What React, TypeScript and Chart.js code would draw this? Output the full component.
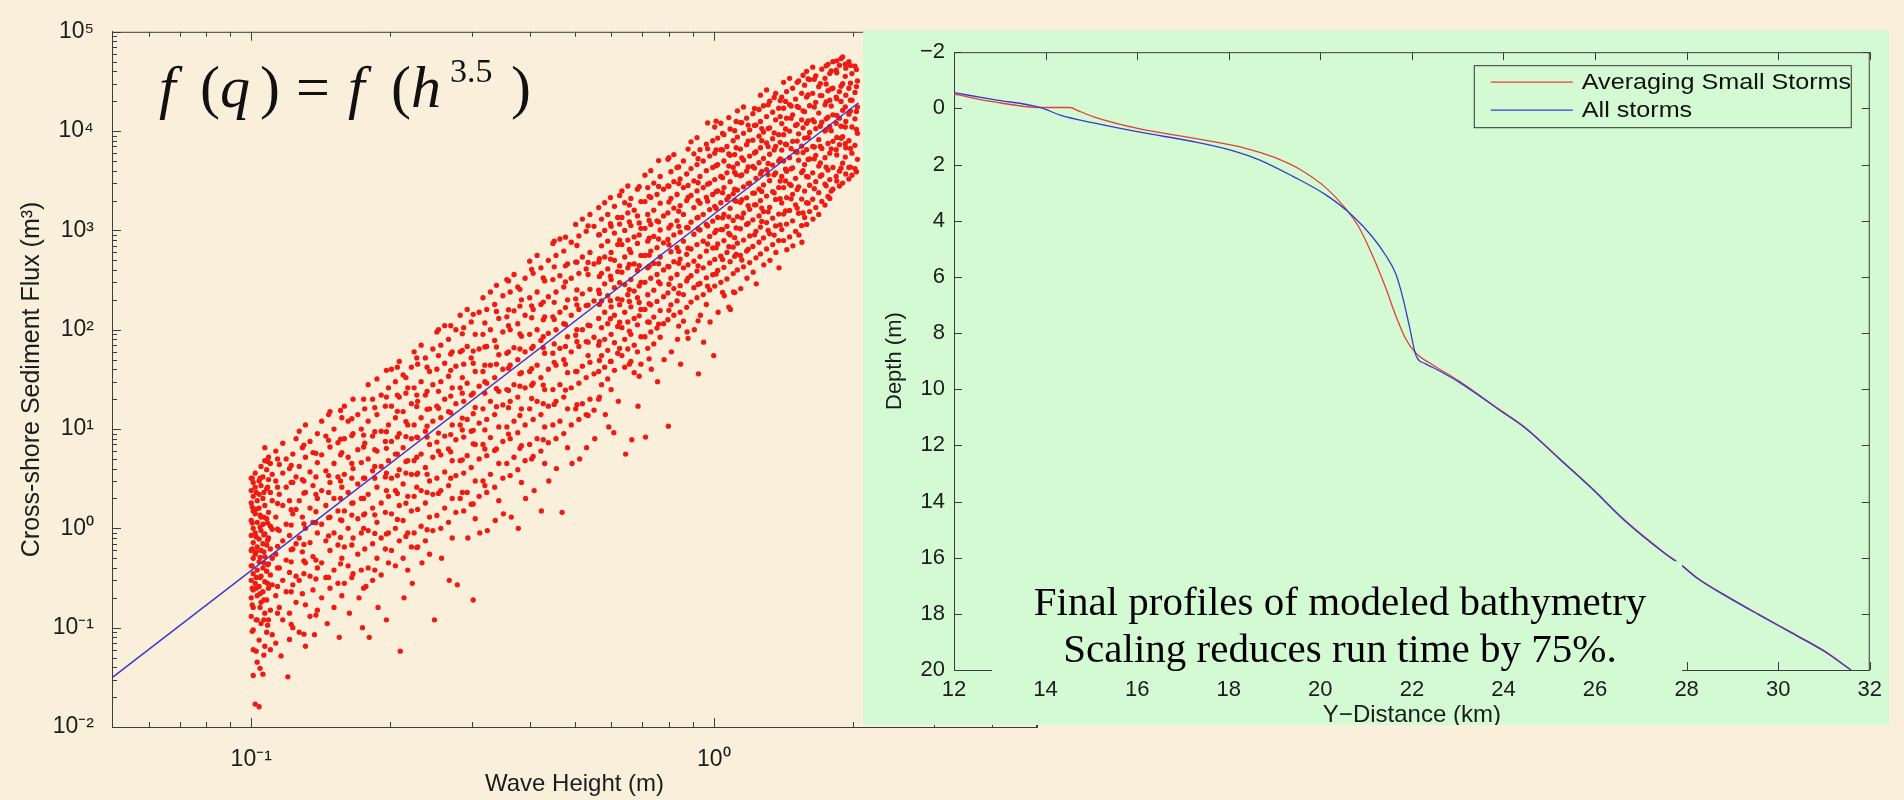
import React, { useEffect, useRef } from 'react';
import { Chart, registerables } from 'chart.js';

Chart.register(...registerables);

// ---------------- Left panel: wave height vs. cross-shore sediment flux ----------------
// [wave height (m), sediment flux (m^3)] read from the scatter cloud
const waveFluxPairs: [number, number][] = [
  [0.100,3.2],[0.100,2.4],[0.100,1.8],[0.100,1.2],[0.100,0.85],[0.100,0.6],[0.100,0.42],[0.100,0.3],[0.100,0.2],[0.100,0.13],
  [0.101,2.9],[0.101,2.1],[0.101,1.5],[0.101,1.0],[0.101,0.72],[0.101,0.5],[0.101,0.35],[0.101,0.24],[0.101,0.16],[0.101,0.095],[0.101,0.06],[0.101,0.033],[0.102,0.017],[0.104,0.016],
  [0.102,3.6],[0.102,2.6],[0.102,1.4],[0.102,0.9],[0.102,0.55],[0.102,0.28],
  [0.103,1.9],[0.103,1.15],[0.103,0.65],[0.103,0.38],[0.103,0.21],[0.103,0.12],[0.103,0.045],
  [0.104,3.0],[0.104,2.2],[0.104,1.6],[0.104,0.78],[0.104,0.46],[0.104,0.26],[0.104,0.075],
  [0.105,4.2],[0.105,2.7],[0.105,1.3],[0.105,0.95],[0.105,0.6],[0.105,0.33],[0.105,0.18],[0.105,0.11],
  [0.106,3.3],[0.106,2.0],[0.106,1.1],[0.106,0.7],[0.106,0.4],[0.106,0.23],[0.106,0.034],
  [0.107,6.5],[0.107,4.8],[0.107,1.7],[0.107,0.88],[0.107,0.52],[0.107,0.29],[0.107,0.14],[0.107,0.065],
  [0.108,3.9],[0.108,2.5],[0.108,1.25],[0.108,0.68],[0.108,0.37],[0.108,0.19],[0.108,0.09],
  [0.109,5.2],[0.109,3.1],[0.109,1.45],[0.109,0.8],[0.109,0.44],[0.109,0.25],[0.109,0.12],
  [0.110,4.5],[0.110,2.3],[0.110,1.05],[0.110,0.62],[0.110,0.34],[0.110,0.15],[0.110,0.06],
  [0.111,3.5],[0.111,1.9],[0.111,0.98],[0.111,0.5],[0.111,0.27],[0.111,0.085],
  [0.113,6.0],[0.113,3.0],[0.113,1.3],[0.113,0.55],[0.113,0.21],[0.113,0.07],
  [0.115,4.4],[0.115,2.2],[0.115,0.95],[0.115,0.4],[0.115,0.16],[0.116,0.052],
  [0.117,7.2],[0.117,3.6],[0.117,1.7],[0.117,0.75],[0.117,0.3],[0.117,0.12],
  [0.119,5.0],[0.119,2.6],[0.119,1.1],[0.119,0.48],[0.119,0.23],[0.120,0.032],
  [0.121,4.0],[0.121,1.9],[0.121,0.85],[0.121,0.36],[0.121,0.14],[0.121,0.076],
  [0.123,5.6],[0.123,2.9],[0.123,1.4],[0.123,0.62],[0.123,0.27],[0.123,0.1],
  [0.125,8.0],[0.125,3.3],[0.125,1.55],[0.125,0.7],[0.125,0.33],[0.125,0.18],
  [0.127,9.5],[0.127,4.2],[0.127,1.9],[0.127,0.8],[0.127,0.3],[0.127,0.09],
  [0.129,6.5],[0.129,3.1],[0.129,1.3],[0.129,0.58],[0.129,0.22],
  [0.131,11],[0.131,5.2],[0.131,2.3],[0.131,1.0],[0.131,0.45],[0.131,0.17],[0.131,0.065],
  [0.134,7.5],[0.134,3.7],[0.134,1.6],[0.134,0.72],[0.134,0.33],[0.134,0.13],
  [0.136,5.8],[0.136,2.7],[0.136,1.15],[0.136,0.52],[0.136,0.24],[0.137,0.085],
  [0.139,9.0],[0.139,4.6],[0.139,2.0],[0.139,0.9],[0.139,0.4],[0.139,0.15],
  [0.142,12],[0.142,5.5],[0.142,2.4],[0.142,1.1],[0.142,0.45],[0.142,0.2],
  [0.145,8.5],[0.145,3.8],[0.145,1.7],[0.145,0.75],[0.145,0.32],[0.146,0.11],
  [0.148,15],[0.148,6.6],[0.148,2.9],[0.148,1.3],[0.148,0.6],[0.148,0.25],
  [0.151,10],[0.151,4.5],[0.151,2.0],[0.151,0.9],[0.151,0.38],[0.151,0.16],
  [0.154,7.3],[0.154,3.3],[0.154,1.5],[0.154,0.68],[0.154,0.28],[0.155,0.08],
  [0.157,13],[0.157,5.8],[0.157,2.6],[0.157,1.2],[0.157,0.5],[0.157,0.21],
  [0.159,17],[0.159,8.0],[0.159,3.5],[0.159,1.5],[0.159,0.65],[0.159,0.28],
  [0.162,12],[0.162,5.2],[0.162,2.3],[0.162,1.0],[0.162,0.42],[0.163,0.14],
  [0.166,20],[0.166,9.0],[0.166,4.0],[0.166,1.8],[0.166,0.8],[0.166,0.35],
  [0.170,14],[0.170,6.2],[0.170,2.8],[0.170,1.25],[0.170,0.55],[0.171,0.2],
  [0.173,10],[0.173,4.6],[0.173,2.0],[0.173,0.9],[0.173,0.38],[0.174,0.1],
  [0.176,16],[0.176,7.2],[0.176,3.2],[0.176,1.4],[0.176,0.62],[0.177,0.26],
  [0.179,28],[0.179,12],[0.179,5.0],[0.179,2.2],[0.179,0.95],[0.179,0.4],[0.180,0.08],
  [0.183,20],[0.183,8.5],[0.183,3.8],[0.183,1.6],[0.183,0.7],[0.183,0.3],
  [0.187,32],[0.187,14],[0.187,6.0],[0.187,2.6],[0.187,1.15],[0.187,0.5],[0.188,0.16],
  [0.191,22],[0.191,9.5],[0.191,4.2],[0.191,1.8],[0.191,0.8],[0.191,0.34],
  [0.195,17],[0.195,7.5],[0.195,3.3],[0.195,1.45],[0.195,0.62],[0.196,0.12],
  [0.198,26],[0.198,11],[0.198,4.8],[0.198,2.1],[0.198,0.9],[0.198,0.45],
  [0.201,40],[0.201,17],[0.201,7.5],[0.201,3.2],[0.201,1.4],[0.201,0.6],
  [0.205,30],[0.205,13],[0.205,5.6],[0.205,2.4],[0.205,1.0],[0.205,0.42],
  [0.209,48],[0.209,21],[0.209,9.0],[0.209,3.9],[0.209,1.7],[0.209,0.75],[0.210,0.058],
  [0.213,35],[0.213,15],[0.213,6.5],[0.213,2.8],[0.213,1.2],[0.213,0.5],[0.214,0.2],
  [0.218,26],[0.218,11],[0.218,4.8],[0.218,2.1],[0.218,0.9],[0.218,0.38],
  [0.222,42],[0.222,18],[0.222,8.0],[0.222,3.5],[0.222,1.5],[0.222,0.65],[0.223,0.28],
  [0.225,60],[0.225,26],[0.225,11],[0.225,4.8],[0.225,2.1],[0.225,0.9],
  [0.229,45],[0.229,19],[0.229,8.2],[0.229,3.6],[0.229,1.55],[0.229,0.65],
  [0.233,70],[0.233,30],[0.233,13],[0.233,5.6],[0.233,2.4],[0.233,1.05],[0.234,0.45],
  [0.238,52],[0.238,22],[0.238,9.5],[0.238,4.1],[0.238,1.8],[0.238,0.75],
  [0.243,38],[0.243,16],[0.243,7.0],[0.243,3.0],[0.243,1.3],[0.243,0.55],
  [0.247,64],[0.247,28],[0.247,12],[0.247,5.2],[0.247,2.2],[0.247,0.95],[0.249,0.12],
  [0.252,95],[0.252,40],[0.252,17],[0.252,7.4],[0.252,3.2],[0.252,1.35],
  [0.257,70],[0.257,30],[0.257,13],[0.257,5.5],[0.257,2.4],[0.257,1.0],[0.258,0.5],
  [0.262,110],[0.262,46],[0.262,20],[0.262,8.5],[0.262,3.7],[0.262,1.6],
  [0.267,80],[0.267,34],[0.267,15],[0.267,6.3],[0.267,2.7],[0.267,1.15],[0.268,0.3],
  [0.272,60],[0.272,26],[0.272,11],[0.272,4.8],[0.272,2.0],[0.272,0.8],
  [0.277,100],[0.277,43],[0.277,18],[0.277,7.8],[0.277,3.4],[0.277,1.45],[0.279,0.27],
  [0.283,140],[0.283,60],[0.283,26],[0.283,11],[0.283,4.8],[0.283,2.0],
  [0.288,105],[0.288,45],[0.288,19],[0.288,8.3],[0.288,3.6],[0.288,1.5],
  [0.293,160],[0.293,68],[0.293,29],[0.293,12.5],[0.293,5.4],[0.293,2.3],[0.294,0.8],
  [0.299,120],[0.299,52],[0.299,22],[0.299,9.5],[0.299,4.1],[0.299,1.75],[0.302,0.19],
  [0.305,90],[0.305,38],[0.305,16.5],[0.305,7.0],[0.305,3.0],[0.305,1.25],
  [0.311,150],[0.311,64],[0.311,27],[0.311,11.5],[0.311,5.0],[0.311,2.1],[0.312,0.9],
  [0.317,210],[0.317,90],[0.317,38],[0.317,16],[0.317,7.0],[0.317,3.0],
  [0.323,160],[0.323,68],[0.323,29],[0.323,12.5],[0.323,5.4],[0.323,2.3],[0.324,0.95],
  [0.329,240],[0.329,100],[0.329,44],[0.329,19],[0.329,8.2],[0.329,3.5],
  [0.336,180],[0.336,78],[0.336,33],[0.336,14],[0.336,6.1],[0.336,2.6],[0.337,1.2],
  [0.343,130],[0.343,56],[0.343,24],[0.343,10.5],[0.343,4.5],[0.343,1.9],
  [0.350,220],[0.350,95],[0.350,40],[0.350,17.5],[0.350,7.5],[0.350,3.2],[0.351,1.4],
  [0.357,320],[0.357,135],[0.357,58],[0.357,25],[0.357,10.5],[0.357,4.5],
  [0.363,240],[0.363,100],[0.363,44],[0.363,19],[0.363,8.0],[0.363,3.4],[0.365,1.3],
  [0.370,360],[0.370,155],[0.370,66],[0.370,28],[0.370,12],[0.370,5.2],
  [0.377,270],[0.377,115],[0.377,50],[0.377,21],[0.377,9.2],[0.377,3.9],[0.378,1.0],
  [0.384,200],[0.384,86],[0.384,37],[0.384,16],[0.384,6.8],[0.384,2.9],
  [0.391,330],[0.391,140],[0.391,60],[0.391,26],[0.391,11],[0.391,4.8],[0.392,2.0],
  [0.400,490],[0.400,210],[0.400,90],[0.400,38],[0.400,16],[0.400,7.0],
  [0.407,370],[0.407,160],[0.407,68],[0.407,29],[0.407,12.5],[0.407,5.3],[0.409,2.4],
  [0.415,560],[0.415,240],[0.415,100],[0.415,44],[0.415,19],[0.415,8.0],
  [0.423,420],[0.423,180],[0.423,78],[0.423,33],[0.423,14],[0.423,6.0],[0.424,1.5],
  [0.431,310],[0.431,135],[0.431,58],[0.431,25],[0.431,10.5],[0.431,4.5],
  [0.439,500],[0.439,215],[0.439,92],[0.439,40],[0.439,17],[0.439,7.3],[0.440,3.0],
  [0.449,740],[0.449,320],[0.449,135],[0.449,58],[0.449,25],[0.449,11],
  [0.456,560],[0.456,240],[0.456,100],[0.456,44],[0.456,19],[0.456,8.0],[0.457,4.0],
  [0.465,820],[0.465,350],[0.465,150],[0.465,65],[0.465,28],[0.465,12],[0.470,1.45],
  [0.474,620],[0.474,270],[0.474,115],[0.474,50],[0.474,21],[0.474,9.0],
  [0.483,460],[0.483,200],[0.483,85],[0.483,37],[0.483,16],[0.483,6.5],
  [0.492,760],[0.492,330],[0.492,140],[0.492,60],[0.492,26],[0.492,11],[0.494,4.5],
  [0.503,1150],[0.503,480],[0.503,205],[0.503,88],[0.503,38],[0.503,16],
  [0.511,880],[0.511,370],[0.511,160],[0.511,68],[0.511,29],[0.511,12.5],[0.513,5.0],
  [0.520,1300],[0.520,540],[0.520,230],[0.520,100],[0.520,43],[0.520,18],
  [0.530,980],[0.530,410],[0.530,175],[0.530,76],[0.530,33],[0.530,14],[0.531,6.5],
  [0.540,1450],[0.540,600],[0.540,255],[0.540,110],[0.540,47],[0.540,20],
  [0.551,1100],[0.551,460],[0.551,195],[0.551,84],[0.551,36],[0.551,15.5],[0.553,8.0],
  [0.564,1700],[0.564,900],[0.564,480],[0.564,250],[0.564,130],[0.564,70],[0.564,38],[0.564,20],
  [0.572,1300],[0.572,700],[0.572,370],[0.572,195],[0.572,105],[0.572,55],[0.572,28],
  [0.581,1900],[0.581,1000],[0.581,540],[0.581,290],[0.581,150],[0.581,80],[0.581,42],[0.583,14],
  [0.590,1450],[0.590,780],[0.590,410],[0.590,220],[0.590,115],[0.590,62],[0.590,32],[0.593,10.5],
  [0.600,1100],[0.600,600],[0.600,320],[0.600,170],[0.600,90],[0.600,48],[0.600,25],[0.608,9.2],
  [0.610,1750],[0.610,940],[0.610,500],[0.610,265],[0.610,140],[0.610,74],[0.610,39],
  [0.620,1350],[0.620,720],[0.620,385],[0.620,205],[0.620,108],[0.620,58],[0.622,19],
  [0.633,2500],[0.633,1350],[0.633,720],[0.633,380],[0.633,200],[0.633,105],[0.633,55],
  [0.642,1900],[0.642,1000],[0.642,540],[0.642,285],[0.642,150],[0.642,80],[0.642,42],[0.645,5.6],
  [0.652,2800],[0.652,1500],[0.652,800],[0.652,420],[0.652,225],[0.652,120],[0.652,64],
  [0.662,2100],[0.662,1120],[0.662,600],[0.662,320],[0.662,170],[0.662,90],[0.662,48],[0.665,7.8],
  [0.673,1600],[0.673,860],[0.673,460],[0.673,245],[0.673,130],[0.673,70],[0.673,37],
  [0.684,2600],[0.684,1400],[0.684,740],[0.684,395],[0.684,210],[0.684,112],[0.684,60],[0.686,17],
  [0.696,1950],[0.696,1050],[0.696,560],[0.696,300],[0.696,160],[0.696,85],[0.696,45],
  [0.710,3600],[0.710,1950],[0.710,1050],[0.710,560],[0.710,300],[0.710,160],[0.710,85],[0.712,8.3],
  [0.720,2700],[0.720,1450],[0.720,780],[0.720,420],[0.720,225],[0.720,120],[0.720,65],
  [0.731,4000],[0.731,2150],[0.731,1150],[0.731,620],[0.731,330],[0.731,178],[0.731,95],[0.733,40],
  [0.742,3000],[0.742,1600],[0.742,870],[0.742,465],[0.742,250],[0.742,134],[0.742,72],
  [0.754,2300],[0.754,1250],[0.754,670],[0.754,360],[0.754,193],[0.754,104],[0.756,30],
  [0.766,3500],[0.766,1880],[0.766,1010],[0.766,540],[0.766,290],[0.766,156],[0.766,84],
  [0.779,2600],[0.779,1400],[0.779,750],[0.779,400],[0.779,215],[0.779,115],[0.781,50],
  [0.796,5200],[0.796,2800],[0.796,1500],[0.796,810],[0.796,435],[0.796,235],[0.796,126],[0.798,10.7],
  [0.808,3900],[0.808,2100],[0.808,1130],[0.808,610],[0.808,330],[0.808,178],[0.810,60],
  [0.820,5800],[0.820,3100],[0.820,1680],[0.820,900],[0.820,485],[0.820,260],[0.820,140],
  [0.833,4300],[0.833,2300],[0.833,1250],[0.833,670],[0.833,360],[0.833,195],[0.835,80],
  [0.846,3300],[0.846,1780],[0.846,960],[0.846,515],[0.846,278],[0.846,150],[0.848,45],
  [0.860,5000],[0.860,2700],[0.860,1450],[0.860,780],[0.860,420],[0.860,226],[0.860,122],
  [0.874,3700],[0.874,2000],[0.874,1070],[0.874,575],[0.874,310],[0.874,168],[0.876,95],
  [0.893,7800],[0.893,4200],[0.893,2250],[0.893,1210],[0.893,650],[0.893,350],[0.893,190],
  [0.906,5900],[0.906,3150],[0.906,1700],[0.906,915],[0.906,490],[0.906,265],[0.908,100],
  [0.920,8600],[0.920,4600],[0.920,2500],[0.920,1340],[0.920,720],[0.920,390],[0.920,210],[0.927,36],
  [0.934,6500],[0.934,3500],[0.934,1880],[0.934,1010],[0.934,545],[0.934,293],[0.936,140],
  [0.949,5000],[0.949,2700],[0.949,1450],[0.949,780],[0.949,420],[0.949,226],[0.951,75],
  [0.964,7400],[0.964,4000],[0.964,2150],[0.964,1150],[0.964,620],[0.964,333],[0.964,180],
  [0.980,5600],[0.980,3000],[0.980,1620],[0.980,870],[0.980,470],[0.980,252],[0.982,120],
  [0.995,8000],[0.995,4300],[0.995,2300],[0.995,1240],[0.995,665],[0.995,358],[1.000,55],
  [1.005,11000],[1.005,6000],[1.005,3250],[1.005,1750],[1.005,950],[1.005,510],[1.005,275],
  [1.020,8500],[1.020,4600],[1.020,2500],[1.020,1350],[1.020,730],[1.020,395],[1.022,150],
  [1.036,12000],[1.036,6500],[1.036,3500],[1.036,1900],[1.036,1020],[1.036,550],[1.036,300],
  [1.052,9200],[1.052,5000],[1.052,2700],[1.052,1450],[1.052,790],[1.052,425],[1.054,220],
  [1.068,7000],[1.068,3800],[1.068,2050],[1.068,1100],[1.068,600],[1.068,325],
  [1.085,10500],[1.085,5700],[1.085,3100],[1.085,1670],[1.085,900],[1.085,485],[1.087,160],
  [1.102,8000],[1.102,4300],[1.102,2350],[1.102,1260],[1.102,680],[1.102,368],[1.104,240],
  [1.118,12500],[1.118,6800],[1.118,3650],[1.118,1970],[1.118,1060],[1.118,575],
  [1.125,16000],[1.125,8700],[1.125,4700],[1.125,2550],[1.125,1380],[1.125,745],[1.125,400],
  [1.142,12200],[1.142,6600],[1.142,3550],[1.142,1920],[1.142,1040],[1.142,560],[1.144,260],
  [1.160,17500],[1.160,9500],[1.160,5100],[1.160,2750],[1.160,1490],[1.160,800],[1.160,430],
  [1.178,13500],[1.178,7300],[1.178,3950],[1.178,2130],[1.178,1150],[1.178,620],[1.180,330],
  [1.196,10300],[1.196,5600],[1.196,3000],[1.196,1630],[1.196,880],[1.196,475],
  [1.215,15000],[1.215,8100],[1.215,4400],[1.215,2370],[1.215,1280],[1.215,690],[1.217,380],
  [1.234,11500],[1.234,6200],[1.234,3350],[1.234,1810],[1.234,980],[1.234,530],[1.236,290],
  [1.253,16500],[1.253,8900],[1.253,4800],[1.253,2600],[1.253,1400],[1.253,760],
  [1.262,23000],[1.262,12500],[1.262,6800],[1.262,3700],[1.262,2000],[1.262,1080],[1.262,580],
  [1.281,18000],[1.281,9800],[1.281,5300],[1.281,2870],[1.281,1550],[1.281,840],[1.283,450],
  [1.301,26000],[1.301,14000],[1.301,7600],[1.301,4100],[1.301,2220],[1.301,1200],[1.301,650],
  [1.321,20000],[1.321,10800],[1.321,5850],[1.321,3170],[1.321,1710],[1.321,925],[1.323,500],
  [1.341,15500],[1.341,8400],[1.341,4550],[1.341,2460],[1.341,1330],[1.341,720],
  [1.361,24000],[1.361,13000],[1.361,7000],[1.361,3800],[1.361,2050],[1.361,1110],[1.363,600],
  [1.382,17000],[1.382,9200],[1.382,5000],[1.382,2700],[1.382,1460],[1.382,790],[1.384,420],
  [1.403,22000],[1.403,11900],[1.403,6450],[1.403,3490],[1.403,1890],[1.403,1020],
  [1.416,31000],[1.416,17000],[1.416,9200],[1.416,5000],[1.416,2700],[1.416,1460],[1.416,790],
  [1.437,25000],[1.437,13500],[1.437,7300],[1.437,3950],[1.437,2140],[1.437,1160],[1.439,640],
  [1.459,34000],[1.459,18500],[1.459,10000],[1.459,5400],[1.459,2930],[1.459,1590],[1.459,860],
  [1.481,27000],[1.481,14600],[1.481,7900],[1.481,4270],[1.481,2310],[1.481,1250],[1.483,700],
  [1.503,21000],[1.503,11400],[1.503,6200],[1.503,3350],[1.503,1810],[1.503,980],
  [1.526,32000],[1.526,17300],[1.526,9400],[1.526,5100],[1.526,2750],[1.526,1490],[1.528,900],
  [1.549,24000],[1.549,13000],[1.549,7050],[1.549,3820],[1.549,2070],[1.549,1120],[1.551,760],
  [1.572,29000],[1.572,15700],[1.572,8500],[1.572,4600],[1.572,2490],[1.572,1350],
  [1.588,40000],[1.588,22000],[1.588,12000],[1.588,6500],[1.588,3500],[1.588,1900],[1.588,1150],
  [1.612,33000],[1.612,18000],[1.612,9700],[1.612,5250],[1.612,2850],[1.612,1550],
  [1.637,44000],[1.637,24000],[1.637,13000],[1.637,7000],[1.637,3800],[1.637,2060],[1.639,1300],
  [1.662,36000],[1.662,19500],[1.662,10600],[1.662,5700],[1.662,3100],[1.662,1700],
  [1.687,28000],[1.687,15200],[1.687,8200],[1.687,4450],[1.687,2400],[1.687,1450],
  [1.713,42000],[1.713,22800],[1.713,12300],[1.713,6700],[1.713,3620],[1.713,1960],
  [1.740,34000],[1.740,18400],[1.740,10000],[1.740,5400],[1.740,2930],[1.740,1800],
  [1.766,47000],[1.766,25500],[1.766,13800],[1.766,7500],[1.766,4050],[1.766,2200],
  [1.782,38000],[1.782,20500],[1.782,11100],[1.782,6000],[1.782,3250],[1.782,2100],
  [1.810,50000],[1.810,27000],[1.810,14600],[1.810,7900],[1.810,4300],[1.810,2600],
  [1.840,41000],[1.840,22000],[1.840,12000],[1.840,6500],[1.840,3500],
  [1.870,46000],[1.870,25000],[1.870,13500],[1.870,7300],[1.870,3950],[1.870,2800],
  [1.900,56000],[1.900,30000],[1.900,16200],[1.900,8800],[1.900,4750],[1.900,3000],
  [1.930,43000],[1.930,23000],[1.930,12500],[1.930,6800],[1.930,3700],
  [1.960,50000],[1.960,27000],[1.960,14800],[1.960,8000],[1.960,4300],[1.960,3300],
  [1.990,38000],[1.990,20500],[1.990,11000],[1.990,6000],[1.990,3600],
  [2.020,45000],[2.020,24500],[2.020,13300],[2.020,7200],[2.020,4200],
  [2.045,32000],[2.045,17500],[2.045,9500],[2.045,5200],
];

// second pass over the cloud: points lying between the columns above
const waveFluxPairsFill: [number, number][] = [
  [0.1005,3.2],[0.1005,1.64],[0.1005,1.13],[0.1005,0.62],[0.1005,0.42],[0.1005,0.25],[0.1005,0.17],[0.1005,0.092],
  [0.1025,2.3],[0.1025,1.56],[0.1025,0.82],[0.1025,0.58],[0.1025,0.32],[0.1025,0.25],[0.1025,0.12],[0.1025,0.058],
  [0.1045,3.2],[0.1045,1.36],[0.1045,1.03],[0.1045,0.51],[0.1045,0.32],[0.1045,0.22],[0.1045,0.16],[0.1045,0.039],
  [0.1065,2.3],[0.1065,1.3],[0.1065,0.86],[0.1065,0.58],[0.1065,0.45],[0.1065,0.19],[0.1065,0.12],[0.1065,0.053],
  [0.1085,4.7],[0.1085,2.6],[0.1085,1.13],[0.1085,0.76],[0.1085,0.43],[0.1085,0.28],[0.1085,0.106],
  [0.114,5.0],[0.114,2.6],[0.114,1.78],[0.114,0.98],[0.114,0.66],[0.114,0.4],[0.114,0.26],[0.114,0.14],
  [0.122,4.3],[0.122,2.9],[0.122,1.54],[0.122,1.08],[0.122,0.61],[0.122,0.46],[0.122,0.23],[0.122,0.108],
  [0.130,6.9],[0.130,3.0],[0.130,2.26],[0.130,1.11],[0.130,0.69],[0.130,0.47],[0.130,0.35],[0.130,0.086],
  [0.138,5.7],[0.138,3.3],[0.138,2.2],[0.138,1.47],[0.138,1.14],[0.138,0.48],[0.138,0.31],[0.138,0.134],
  [0.147,14],[0.147,7.7],[0.147,3.4],[0.147,2.3],[0.147,1.28],[0.147,0.84],[0.147,0.32],
  [0.156,15.4],[0.156,7.9],[0.156,5.5],[0.156,3.0],[0.156,2.0],[0.156,1.22],[0.156,0.81],[0.156,0.44],
  [0.165,12.7],[0.165,8.6],[0.165,4.5],[0.165,3.2],[0.165,1.79],[0.165,1.36],[0.165,0.68],[0.165,0.32],
  [0.175,20],[0.175,8.7],[0.175,6.6],[0.175,3.2],[0.175,2.0],[0.175,1.37],[0.175,1.0],[0.175,0.25],
  [0.185,16.4],[0.185,9.4],[0.185,6.2],[0.185,4.2],[0.185,3.2],[0.185,1.37],[0.185,0.89],[0.185,0.38],
  [0.196,39],[0.196,21],[0.196,9.4],[0.196,6.4],[0.196,3.6],[0.196,2.4],[0.196,0.88],
  [0.207,42],[0.207,22],[0.207,15.1],[0.207,8.3],[0.207,5.6],[0.207,3.4],[0.207,2.25],[0.207,1.23],
  [0.216,33],[0.216,23],[0.216,11.9],[0.216,8.4],[0.216,4.7],[0.216,3.6],[0.216,1.79],[0.216,0.83],
  [0.228,52],[0.228,22],[0.228,16.9],[0.228,8.3],[0.228,5.2],[0.228,3.5],[0.228,2.6],[0.228,0.64],
  [0.240,42],[0.240,24],[0.240,15.8],[0.240,10.7],[0.240,8.3],[0.240,3.5],[0.240,2.3],[0.240,0.97],
  [0.254,100],[0.254,55],[0.254,24],[0.254,16.2],[0.254,9.1],[0.254,6.0],[0.254,2.25],
  [0.270,110],[0.270,57],[0.270,39],[0.270,21.5],[0.270,14.6],[0.270,8.8],[0.270,5.9],[0.270,3.2],
  [0.286,91],[0.286,62],[0.286,33],[0.286,23],[0.286,12.9],[0.286,9.8],[0.286,4.9],[0.286,2.3],
  [0.302,143],[0.302,61],[0.302,46],[0.302,23],[0.302,14.3],[0.302,9.7],[0.302,7.1],[0.302,1.76],
  [0.320,117],[0.320,67],[0.320,44],[0.320,30],[0.320,23],[0.320,9.8],[0.320,6.3],[0.320,2.7],
  [0.339,280],[0.339,153],[0.339,67],[0.339,45],[0.339,25.5],[0.339,16.8],[0.339,6.3],
  [0.360,310],[0.360,159],[0.360,110],[0.360,60],[0.360,41],[0.360,24.5],[0.360,16.4],[0.360,8.9],
  [0.381,255],[0.381,173],[0.381,91],[0.381,64],[0.381,36],[0.381,27],[0.381,13.7],[0.381,6.4],
  [0.404,405],[0.404,174],[0.404,132],[0.404,65],[0.404,40.5],[0.404,27.6],[0.404,20.3],[0.404,5.0],
  [0.428,332],[0.428,190],[0.428,126],[0.428,85],[0.428,66],[0.428,27.7],[0.428,18],[0.428,7.8],
  [0.452,780],[0.452,430],[0.452,189],[0.452,127],[0.452,72],[0.452,47],[0.452,17.7],
  [0.478,855],[0.478,440],[0.478,304],[0.478,167],[0.478,113],[0.478,68],[0.478,45],[0.478,24.7],
  [0.506,705],[0.506,479],[0.506,252],[0.506,178],[0.506,100],[0.506,76],[0.506,38],[0.506,17.6],
  [0.535,1110],[0.535,476],[0.535,360],[0.535,177],[0.535,111],[0.535,75],[0.535,55],[0.535,13.7],
  [0.566,907],[0.566,520],[0.566,344],[0.566,232],[0.566,180],[0.566,76],[0.566,49],[0.566,21],
  [0.598,2140],[0.598,1170],[0.598,515],[0.598,347],[0.598,196],[0.598,129],[0.598,48],
  [0.626,2250],[0.626,1160],[0.626,800],[0.626,439],[0.626,298],[0.626,179],[0.626,119],[0.626,65],
  [0.657,1800],[0.657,1220],[0.657,644],[0.657,454],[0.657,254],[0.657,193],[0.657,97],[0.657,45],
  [0.690,2760],[0.690,1190],[0.690,900],[0.690,442],[0.690,276],[0.690,188],[0.690,138],[0.690,34],
  [0.725,2200],[0.725,1260],[0.725,834],[0.725,563],[0.725,435],[0.725,183],[0.725,119],[0.725,51],
  [0.760,5050],[0.760,2770],[0.760,1220],[0.760,820],[0.760,462],[0.760,304],[0.760,114],
  [0.800,5400],[0.800,2790],[0.800,1930],[0.800,1060],[0.800,718],[0.800,431],[0.800,287],[0.800,157],
  [0.840,4360],[0.840,2960],[0.840,1560],[0.840,1100],[0.840,615],[0.840,467],[0.840,233],[0.840,109],
  [0.880,6600],[0.880,2840],[0.880,2150],[0.880,1060],[0.880,662],[0.880,450],[0.880,331],[0.880,82],
  [0.925,5280],[0.925,3020],[0.925,2000],[0.925,1350],[0.925,1040],[0.925,440],[0.925,286],[0.925,123],
  [0.970,12100],[0.970,6650],[0.970,2920],[0.970,1970],[0.970,1110],[0.970,730],[0.970,274],
  [1.012,12600],[1.012,6480],[1.012,4480],[1.012,2460],[1.012,1670],[1.012,1000],[1.012,668],[1.012,364],
  [1.045,9500],[1.045,6470],[1.045,3400],[1.045,2400],[1.045,1340],[1.045,1020],[1.045,511],[1.045,238],
  [1.078,13700],[1.078,5880],[1.078,4450],[1.078,2190],[1.078,1370],[1.078,932],[1.078,685],[1.078,169],
  [1.110,10100],[1.110,5810],[1.110,3850],[1.110,2600],[1.110,2010],[1.110,845],[1.110,549],[1.110,237],
  [1.150,12200],[1.150,5380],[1.150,3620],[1.150,2040],[1.150,1340],[1.150,504],
  [1.187,11500],[1.187,7940],[1.187,4360],[1.187,2960],[1.187,1780],[1.187,1180],[1.187,646],
  [1.225,16900],[1.225,11400],[1.225,6020],[1.225,4240],[1.225,2380],[1.225,1810],[1.225,903],
  [1.270,10600],[1.270,8020],[1.270,3940],[1.270,2470],[1.270,1680],[1.270,1230],
  [1.311,18400],[1.311,10600],[1.311,6990],[1.311,4720],[1.311,3650],[1.311,1540],[1.311,998],
  [1.351,21800],[1.351,9580],[1.351,6460],[1.351,3630],[1.351,2390],[1.351,898],
  [1.392,20300],[1.392,14000],[1.392,7710],[1.392,5240],[1.392,3140],[1.392,2090],[1.392,1140],
  [1.430,19900],[1.430,10500],[1.430,7390],[1.430,4140],[1.430,3150],[1.430,1570],
  [1.470,17900],[1.470,13500],[1.470,6660],[1.470,4170],[1.470,2840],[1.470,2080],
  [1.515,31000],[1.515,17700],[1.515,11700],[1.515,7930],[1.515,6130],[1.515,2580],[1.515,1680],
  [1.560,36500],[1.560,16000],[1.560,10800],[1.560,6090],[1.560,4010],[1.560,1500],
  [1.600,33500],[1.600,23100],[1.600,12700],[1.600,8630],[1.600,5180],[1.600,3450],[1.600,1880],
  [1.650,33300],[1.650,17500],[1.650,12400],[1.650,6920],[1.650,5260],[1.650,2630],
  [1.700,30100],[1.700,22800],[1.700,11200],[1.700,7020],[1.700,4780],[1.700,3510],
  [1.750,45400],[1.750,29800],[1.750,19700],[1.750,13300],[1.750,10300],[1.750,4330],[1.750,2810],
  [1.795,40300],[1.795,26600],[1.795,17900],[1.795,10100],[1.795,6640],[1.795,2490],
  [1.845,51000],[1.845,38600],[1.845,21200],[1.845,14400],[1.845,8640],[1.845,5760],[1.845,3140],
  [1.885,53700],[1.885,28300],[1.885,19900],[1.885,11200],[1.885,8480],[1.885,4240],
  [1.925,47100],[1.925,35600],[1.925,17500],[1.925,11000],[1.925,7460],[1.925,5480],
  [1.975,45900],[1.975,30400],[1.975,20500],[1.975,15900],[1.975,6680],[1.975,4340],
  [2.035,41700],[2.035,28100],[2.035,15800],[2.035,10400],[2.035,3900],
];

// fitted power law q ~ h^3.5 (end points of the blue line)
const fitHeights = [0.0502, 2.056];
const fitFlux = [0.0318, 19300];

const fluxXTicks = [0.1, 1];
const fluxXLabels = ['10⁻¹', '10⁰'];
const fluxYTicks = [0.01, 0.1, 1, 10, 100, 1000, 10000, 100000];
const fluxYLabels = ['10⁻²', '10⁻¹', '10⁰', '10¹', '10²', '10³', '10⁴', '10⁵'];

// ---------------- Right panel: modeled bathymetry profiles ----------------
const seriesNames = ['Averaging Small Storms', 'All storms'];
const distanceSmall = [12, 12.87, 13.89, 14.54, 14.69, 15.05, 16.06, 17.22, 18.39, 18.97, 19.55, 20.13, 20.56, 20.85, 21.14, 21.43, 21.65, 21.87, 22.09, 22.45, 23.03, 23.9, 24.48, 25.21, 25.93, 26.66, 27.53, 27.89, 28.26, 28.84, 29.56, 30.29, 31.01, 31.59];
const depthSmall = [-0.51, -0.23, -0.03, -0.03, 0.07, 0.3, 0.73, 1.06, 1.43, 1.73, 2.17, 2.84, 3.58, 4.25, 5.24, 6.4, 7.39, 8.22, 8.72, 9.13, 9.71, 10.71, 11.37, 12.45, 13.52, 14.68, 15.84, 16.26, 16.75, 17.33, 18.0, 18.66, 19.32, 20.0];
const distanceAll = [12, 12.87, 13.89, 14.32, 15.05, 16.06, 17.22, 18.1, 18.68, 19.4, 20.13, 20.71, 21.14, 21.43, 21.65, 21.8, 21.94, 22.09, 22.3, 22.45, 23.03, 23.9, 24.48, 25.21, 25.93, 26.66, 27.53, 27.89, 28.26, 28.84, 29.56, 30.29, 31.01, 31.59];
const depthAll = [-0.56, -0.31, -0.03, 0.24, 0.52, 0.85, 1.18, 1.51, 1.84, 2.42, 3.09, 3.83, 4.58, 5.24, 5.9, 6.73, 7.72, 8.8, 9.1, 9.22, 9.75, 10.73, 11.39, 12.47, 13.54, 14.7, 15.86, 16.28, 16.77, 17.35, 18.02, 18.68, 19.34, 20.0];
const distanceTicks = [12, 14, 16, 18, 20, 22, 24, 26, 28, 30, 32];
const depthTicks = [-2, 0, 2, 4, 6, 8, 10, 12, 14, 16, 18, 20];
const captionLines = ['Final profiles of modeled bathymetry', 'Scaling reduces run time by 75%.'];
const equationText = { f: 'f', q: 'q', h: 'h', power: '3.5', eq: '=' };

// ---------------- styling ----------------
const SANS = '"Liberation Sans", Arial, Helvetica, sans-serif';
const SERIF = '"Liberation Serif", "Times New Roman", Times, serif';
const PAGE_BG = '#f9efda';
const PANEL_GREEN = 'rgb(211,250,211)';
const INK = '#1c1c1c';
const AXIS = '#3c3c3c';

function logTickMarks(min: number, max: number) {
  const out: { v: number; major: boolean }[] = [];
  const e0 = Math.floor(Math.log10(min));
  const e1 = Math.ceil(Math.log10(max));
  for (let e = e0; e <= e1; e++) {
    for (let m = 1; m <= 9; m++) {
      const v = m * Math.pow(10, e);
      if (v >= min * 0.9999 && v <= max * 1.0001) out.push({ v, major: m === 1 });
    }
  }
  return out;
}

const logFramePlugin = {
  id: 'logFrame',
  afterDraw(chart: any) {
    const { ctx, chartArea: a, scales } = chart;
    const xs = scales.x;
    const ys = scales.y;
    ctx.save();
    ctx.strokeStyle = AXIS;
    ctx.lineWidth = 1;
    ctx.beginPath();
    ctx.moveTo(a.left, a.top + 0.5);
    ctx.lineTo(a.right, a.top + 0.5);
    ctx.moveTo(a.right - 0.5, a.top);
    ctx.lineTo(a.right - 0.5, a.bottom);
    for (const t of logTickMarks(xs.min, xs.max)) {
      const px = Math.round(xs.getPixelForValue(t.v)) + 0.5;
      const len = t.major ? 9 : 5;
      ctx.moveTo(px, a.bottom);
      ctx.lineTo(px, a.bottom - len);
      ctx.moveTo(px, a.top);
      ctx.lineTo(px, a.top + len);
    }
    for (const t of logTickMarks(ys.min, ys.max)) {
      const py = Math.round(ys.getPixelForValue(t.v)) + 0.5;
      const len = t.major ? 9 : 5;
      ctx.moveTo(a.left, py);
      ctx.lineTo(a.left + len, py);
      ctx.moveTo(a.right, py);
      ctx.lineTo(a.right - len, py);
    }
    ctx.stroke();
    ctx.restore();
  },
};

const equationPlugin = {
  id: 'equation',
  afterDraw(chart: any) {
    const { ctx, chartArea: a } = chart;
    const base = a.top + 75;
    const parts: [string, number, boolean, number, number][] = [
      [equationText.f, 47, true, 60, 0],
      ['(', 88, false, 60, 0],
      [equationText.q, 108, true, 60, 0],
      [')', 148, false, 60, 0],
      [equationText.eq, 184, false, 60, 0],
      [equationText.f, 236, true, 60, 0],
      ['(', 279, false, 60, 0],
      [equationText.h, 299, true, 60, 0],
      [equationText.power, 338, false, 34, -25],
      [')', 399, false, 60, 0],
    ];
    ctx.save();
    ctx.fillStyle = '#111';
    ctx.textAlign = 'left';
    ctx.textBaseline = 'alphabetic';
    for (const [txt, dx, italic, size, dy] of parts) {
      ctx.font = `${italic ? 'italic ' : ''}${size}px ${SERIF}`;
      ctx.fillText(txt, a.left + dx, base + dy);
    }
    ctx.restore();
  },
};

const profileDecorPlugin = {
  id: 'profileDecor',
  afterDraw(chart: any) {
    const { ctx, chartArea: a, scales } = chart;
    const xs = scales.x;
    const ys = scales.y;
    ctx.save();
    ctx.strokeStyle = AXIS;
    ctx.lineWidth = 1;
    ctx.beginPath();
    ctx.moveTo(a.left, a.top + 0.5);
    ctx.lineTo(a.right, a.top + 0.5);
    ctx.moveTo(a.right - 0.5, a.top);
    ctx.lineTo(a.right - 0.5, a.bottom);
    for (const v of distanceTicks) {
      const px = Math.round(xs.getPixelForValue(v)) + 0.5;
      ctx.moveTo(px, a.bottom);
      ctx.lineTo(px, a.bottom - 8);
      ctx.moveTo(px, a.top);
      ctx.lineTo(px, a.top + 8);
    }
    for (const v of depthTicks) {
      const py = Math.round(ys.getPixelForValue(v)) + 0.5;
      ctx.moveTo(a.left, py);
      ctx.lineTo(a.left + 8, py);
      ctx.moveTo(a.right, py);
      ctx.lineTo(a.right - 8, py);
    }
    ctx.stroke();

    // caption box (opaque, hides part of the axis)
    ctx.fillStyle = PANEL_GREEN;
    ctx.fillRect(a.left + 38, a.top + 509, 690, a.bottom + 6 - (a.top + 509));
    ctx.fillStyle = '#000';
    ctx.font = `41px ${SERIF}`;
    ctx.textAlign = 'center';
    ctx.textBaseline = 'alphabetic';
    ctx.fillText(captionLines[0], a.left + 386, a.top + 563);
    ctx.fillText(captionLines[1], a.left + 386, a.top + 610);

    // legend
    const lx = a.right - 396;
    const ly = a.top + 13;
    ctx.strokeStyle = '#333';
    ctx.lineWidth = 1;
    ctx.strokeRect(lx + 0.5, ly + 0.5, 377, 62);
    const dsets = chart.data.datasets;
    const rows = [ly + 17, ly + 45];
    ctx.font = `21.5px ${SANS}`;
    ctx.textAlign = 'left';
    ctx.textBaseline = 'middle';
    for (let i = 0; i < 2; i++) {
      ctx.strokeStyle = dsets[i].borderColor;
      ctx.lineWidth = 1.3;
      ctx.beginPath();
      ctx.moveTo(lx + 17, rows[i]);
      ctx.lineTo(lx + 99, rows[i]);
      ctx.stroke();
      ctx.fillStyle = '#111';
      ctx.save();
      ctx.translate(lx + 108, rows[i] + 1);
      ctx.scale(1.17, 1);
      ctx.fillText(dsets[i].label, 0, 0);
      ctx.restore();
    }
    ctx.restore();
  },
};

export default function App() {
  const leftRef = useRef<HTMLCanvasElement>(null);
  const rightRef = useRef<HTMLCanvasElement>(null);

  useEffect(() => {
    const left = new Chart(leftRef.current as HTMLCanvasElement, {
      type: 'scatter',
      data: {
        datasets: [
          {
            label: 'fit',
            data: fitHeights.map((h, i) => ({ x: h, y: fitFlux[i] })),
            showLine: true,
            borderColor: 'rgb(62,52,205)',
            borderWidth: 1.4,
            pointRadius: 0,
            order: 0,
          } as any,
          {
            label: 'flux',
            data: waveFluxPairs.concat(waveFluxPairsFill).map(([h, q]) => ({ x: h, y: q })),
            backgroundColor: 'rgb(240,26,16)',
            borderWidth: 0,
            pointRadius: 2.65,
            order: 1,
          },
        ],
      },
      options: {
        animation: false,
        responsive: true,
        maintainAspectRatio: false,
        layout: { padding: { top: 25, right: 13, left: 0, bottom: 0 } },
        plugins: { legend: { display: false }, tooltip: { enabled: false } },
        events: [],
        scales: {
          x: {
            type: 'logarithmic',
            min: 0.05,
            max: 5,
            afterFit: (s: any) => { s.height = 73; },
            afterBuildTicks: (s: any) => { s.ticks = fluxXTicks.map((v) => ({ value: v })); },
            ticks: {
              autoSkip: false,
              maxRotation: 0,
              padding: 19,
              color: INK,
              font: { family: SANS, size: 23 },
              callback: (v: any) => fluxXLabels[fluxXTicks.indexOf(Number(v))] ?? '',
            },
            grid: { display: false, drawTicks: false },
            border: { display: true, color: AXIS, width: 1 },
            title: { display: true, text: 'Wave Height (m)', color: INK, font: { family: SANS, size: 24 }, padding: { top: 0, bottom: 1 } },
          },
          y: {
            type: 'logarithmic',
            min: 0.01,
            max: 100000,
            afterFit: (s: any) => { s.width = 112; },
            afterBuildTicks: (s: any) => { s.ticks = fluxYTicks.map((v) => ({ value: v })); },
            ticks: {
              autoSkip: false,
              padding: 18,
              color: INK,
              font: { family: SANS, size: 23 },
              callback: (v: any) => fluxYLabels[fluxYTicks.indexOf(Number(v))] ?? '',
            },
            grid: { display: false, drawTicks: false },
            border: { display: true, color: AXIS, width: 1 },
            title: { display: true, text: 'Cross-shore Sediment Flux (m³)', color: INK, font: { family: SANS, size: 25 }, padding: { top: 17, bottom: 0 } },
          },
        },
      } as any,
      plugins: [logFramePlugin, equationPlugin],
    });

    const right = new Chart(rightRef.current as HTMLCanvasElement, {
      type: 'line',
      data: {
        datasets: [
          {
            label: seriesNames[0],
            data: distanceSmall.map((d, i) => ({ x: d, y: depthSmall[i] })),
            borderColor: 'rgb(226,62,62)',
            borderWidth: 1.3,
            pointRadius: 0,
            cubicInterpolationMode: 'monotone',
            order: 1,
          },
          {
            label: seriesNames[1],
            data: distanceAll.map((d, i) => ({ x: d, y: depthAll[i] })),
            borderColor: 'rgb(58,58,204)',
            borderWidth: 1.3,
            pointRadius: 0,
            cubicInterpolationMode: 'monotone',
            order: 0,
          },
        ],
      },
      options: {
        animation: false,
        responsive: true,
        maintainAspectRatio: false,
        layout: { padding: { top: 13, right: 17, left: 0, bottom: 0 } },
        plugins: { legend: { display: false }, tooltip: { enabled: false } },
        events: [],
        scales: {
          x: {
            type: 'linear',
            min: 12,
            max: 32,
            afterFit: (s: any) => { s.height = 55; },
            afterBuildTicks: (s: any) => { s.ticks = distanceTicks.map((v) => ({ value: v })); },
            ticks: { autoSkip: false, maxRotation: 0, padding: 7, color: INK, font: { family: SANS, size: 22 } },
            grid: { display: false, drawTicks: false },
            border: { display: true, color: AXIS, width: 1 },
            title: { display: true, text: 'Y−Distance (km)', color: INK, font: { family: SANS, size: 24, lineHeight: 0.8 }, padding: 0 },
          },
          y: {
            type: 'linear',
            min: -2,
            max: 20,
            reverse: true,
            afterFit: (s: any) => { s.width = 91; },
            afterBuildTicks: (s: any) => { s.ticks = depthTicks.map((v) => ({ value: v })); },
            ticks: {
              autoSkip: false,
              padding: 9,
              color: INK,
              font: { family: SANS, size: 22 },
              callback: (v: any) => (Number(v) < 0 ? '−' + Math.abs(Number(v)) : String(v)),
            },
            grid: { display: false, drawTicks: false },
            border: { display: true, color: AXIS, width: 1 },
            title: { display: true, text: 'Depth (m)', color: INK, font: { family: SANS, size: 22 }, padding: { top: 19, bottom: 0 } },
          },
        },
      } as any,
      plugins: [profileDecorPlugin],
    });

    return () => {
      left.destroy();
      right.destroy();
    };
  }, []);

  return (
    <div style={{ position: 'fixed', left: 0, top: 0, width: 1904, height: 800, background: PAGE_BG, overflow: 'hidden' }}>
      <div style={{ position: 'absolute', left: 0, top: 0, width: 1050, height: 800 }}>
        <canvas ref={leftRef} />
      </div>
      <div style={{ position: 'absolute', left: 863, top: 30, width: 1026, height: 695, background: PANEL_GREEN }}>
        <canvas ref={rightRef} />
      </div>
    </div>
  );
}
